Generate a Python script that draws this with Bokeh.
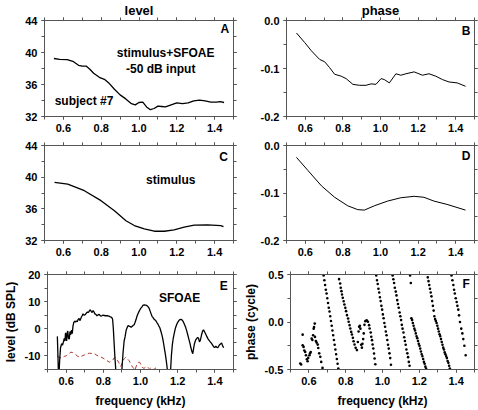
from bokeh.plotting import figure
from bokeh.models import LinearAxis, FixedTicker, CustomJSTickFormatter, Label
from bokeh.layouts import column, row
from bokeh.embed import file_html
from bokeh.resources import INLINE

# ---------------- data ----------------
# Panel A: stimulus+SFOAE level (dB SPL)
a_freq = [0.55, 0.58, 0.62, 0.65, 0.68, 0.70, 0.72, 0.74, 0.76, 0.79, 0.82, 0.84, 0.87, 0.90,
          0.93, 0.96, 0.98, 1.00, 1.02, 1.04, 1.06, 1.08, 1.10, 1.12, 1.14, 1.17, 1.20, 1.23,
          1.26, 1.29, 1.32, 1.35, 1.38, 1.41, 1.43, 1.45]
a_level = [39.25, 39.15, 39.1, 38.9, 38.4, 38.3, 38.3, 37.9, 37.4, 36.9, 36.6, 36.2, 35.4, 34.7,
           34.2, 33.6, 33.45, 33.75, 33.8, 33.2, 32.85, 33.0, 33.3, 33.25, 33.2, 33.45, 33.7, 33.6,
           33.7, 33.95, 34.05, 33.95, 33.8, 33.8, 33.85, 33.75]

# Panel B: stimulus+SFOAE phase (cycle)
b_freq = [0.553, 0.597, 0.632, 0.676, 0.703, 0.729, 0.756, 0.791, 0.817, 0.853, 0.888, 0.923,
          0.950, 0.976, 1.003, 1.020, 1.047, 1.082, 1.108, 1.135, 1.179, 1.223, 1.258, 1.294,
          1.329, 1.364, 1.408, 1.452]
b_phase = [-0.026, -0.046, -0.063, -0.081, -0.086, -0.098, -0.112, -0.116, -0.121, -0.133, -0.135,
           -0.135, -0.132, -0.133, -0.121, -0.123, -0.130, -0.111, -0.114, -0.111, -0.107, -0.114,
           -0.111, -0.116, -0.123, -0.128, -0.130, -0.137]

# Panel C: stimulus level
c_freq = [0.553, 0.623, 0.711, 0.799, 0.870, 0.931, 0.975, 1.028, 1.081, 1.134, 1.186, 1.239,
          1.292, 1.363, 1.433, 1.447]
c_level = [39.34, 39.13, 38.29, 37.03, 35.77, 34.5, 33.89, 33.47, 33.17, 33.17, 33.34, 33.68,
           33.93, 33.97, 33.89, 33.75]

# Panel D: stimulus phase
d_freq = [0.553, 0.615, 0.686, 0.756, 0.826, 0.879, 0.914, 0.967, 1.038, 1.108, 1.179, 1.231,
          1.284, 1.354, 1.452]
d_phase = [-0.025, -0.053, -0.085, -0.109, -0.127, -0.135, -0.136, -0.127, -0.117, -0.110,
           -0.107, -0.109, -0.117, -0.124, -0.136]

# Panel E: SFOAE level and noise floor
e_freq = [0.553, 0.557, 0.560, 0.565, 0.570, 0.576, 0.581, 0.585, 0.590, 0.594, 0.597, 0.600,
          0.603, 0.606, 0.609, 0.613, 0.617, 0.621, 0.625, 0.629, 0.633, 0.637, 0.641, 0.646,
          0.650, 0.655, 0.660, 0.665, 0.670, 0.675, 0.680, 0.686, 0.691, 0.697, 0.703, 0.709,
          0.715, 0.720, 0.725, 0.730, 0.735, 0.740, 0.745, 0.750, 0.755, 0.760, 0.766, 0.772,
          0.778, 0.784, 0.790, 0.797, 0.805, 0.813, 0.822, 0.830, 0.838, 0.845, 0.850, 0.854,
          0.858, 0.862, 0.866, 0.870, 0.880, 0.892, 0.900, 0.906, 0.912, 0.917, 0.923, 0.929,
          0.934, 0.939, 0.945, 0.950, 0.956, 0.961, 0.966, 0.971, 0.976, 0.981, 0.987, 0.993,
          1.000, 1.007, 1.013, 1.020, 1.027, 1.033, 1.040, 1.046, 1.052, 1.057, 1.062, 1.067,
          1.072, 1.077, 1.082, 1.088, 1.094, 1.099, 1.104, 1.110, 1.116, 1.122, 1.128, 1.134,
          1.140, 1.146, 1.154, 1.162, 1.166, 1.171, 1.176, 1.182, 1.188, 1.194, 1.200, 1.206,
          1.212, 1.218, 1.224, 1.230, 1.236, 1.242, 1.248, 1.254, 1.260, 1.266, 1.271, 1.277,
          1.281, 1.285, 1.290, 1.296, 1.302, 1.307, 1.312, 1.317, 1.322, 1.328, 1.334, 1.339,
          1.345, 1.351, 1.357, 1.363, 1.369, 1.375, 1.381, 1.387, 1.393, 1.399, 1.405, 1.410,
          1.415, 1.420, 1.425, 1.430, 1.436, 1.441, 1.447]
e_level = [-2.8, -12.0, -20.0, -12.0, -7.0, -5.5, -6.0, -5.0, -3.5, -4.5, -1.5, -2.5,
           -4.5, -1.5, -0.8, -3.5, -3.8, -1.0, -2.2, -0.5, -1.8, 1.0, 2.3, 2.8,
           2.5, 2.9, 2.6, 3.5, 3.8, 3.0, 4.0, 4.8, 5.5, 5.0, 5.2, 5.8,
           6.2, 6.0, 6.6, 7.0, 6.4, 6.0, 6.7, 6.2, 5.5, 5.3, 4.8, 5.1,
           5.3, 4.8, 4.7, 5.0, 4.9, 4.8, 4.8, 4.7, 4.4, 4.2, 3.5, 0.0,
           -5.0, -10.0, -14.0, -20.0, -30.0, -30.0, -15.0, -9.0, -4.5, -3.0, -0.5, 0.6,
           1.2, 1.0, 0.8, 0.6, 0.9, 1.3, 1.5, 2.4, 3.4, 4.6, 5.6, 6.5,
           7.4, 8.0, 8.6, 8.8, 8.7, 8.6, 8.2, 7.6, 6.5, 5.5, 4.6, 4.2,
           3.6, 3.3, 3.0, 2.3, 1.7, 1.0, 0.4, -1.0, -2.5, -4.5, -7.0, -9.5,
           -12.5, -16.0, -30.0, -15.0, -10.0, -6.0, -3.5, -1.5, 0.3, 1.5, 2.4, 3.0,
           3.4, 3.5, 3.2, 2.6, 1.7, 0.7, -0.7, -2.2, -3.8, -5.4, -7.0, -8.5,
           -9.2, -7.5, -5.5, -4.2, -3.6, -3.2, -3.5, -4.8, -4.2, -2.3, -0.8, -0.4,
           -1.2, -2.0, -2.9, -3.7, -4.3, -4.8, -5.3, -5.9, -6.6, -6.9, -6.4, -6.8,
           -7.0, -6.5, -5.9, -5.6, -5.2, -6.2, -7.0]

noise_freq = [0.553, 0.565, 0.576, 0.590, 0.602, 0.615, 0.626, 0.636, 0.648, 0.660, 0.673,
              0.686, 0.700, 0.713, 0.726, 0.740, 0.753, 0.766, 0.779, 0.793, 0.806, 0.819,
              0.832, 0.841, 0.850, 0.858, 0.867, 0.875, 0.882, 0.888, 0.894, 0.900, 0.906,
              0.913, 0.920, 0.929, 0.938, 0.945, 0.952, 0.961, 0.970, 0.976, 0.982, 0.988,
              0.995, 1.002, 1.009, 1.016, 1.023, 1.029, 1.035, 1.042, 1.048, 1.054, 1.059,
              1.065, 1.071, 1.077, 1.083, 1.090, 1.097, 1.105, 1.115, 1.130, 1.150, 1.165,
              1.175, 1.185, 1.195, 1.205, 1.220]
noise_level = [-10.2, -10.6, -10.8, -10.2, -9.9, -9.2, -8.6, -8.8, -9.3, -10.0, -10.5,
               -10.0, -9.6, -9.2, -9.0, -9.1, -9.2, -9.8, -10.2, -10.6, -11.1, -11.7,
               -12.3, -12.0, -11.7, -10.7, -10.7, -11.5, -12.3, -13.2, -13.9, -12.8, -11.7,
               -11.0, -10.5, -11.0, -11.7, -12.6, -13.5, -14.4, -15.2, -14.0, -12.9, -12.4,
               -12.3, -13.2, -14.2, -14.5, -14.4, -14.0, -13.9, -14.4, -14.8, -14.5, -14.2,
               -14.6, -15.0, -14.7, -14.4, -14.8, -15.2, -15.8, -16.5, -16.2, -15.6, -15.2,
               -15.0, -14.9, -15.1, -15.8, -16.5]

# Panel F: SFOAE phase (cycle), one dot per measured frequency
f_freq = [0.553, 0.558, 0.566, 0.566, 0.571, 0.575, 0.580, 0.584, 0.589, 0.593, 0.596, 0.603,
          0.606, 0.610, 0.615, 0.619, 0.623, 0.626, 0.628, 0.632, 0.633, 0.638, 0.642, 0.648,
          0.651, 0.656, 0.662, 0.667, 0.674,
          0.680, 0.684, 0.688, 0.692, 0.696, 0.700, 0.704, 0.708, 0.712, 0.716, 0.720, 0.724,
          0.728, 0.732, 0.736, 0.740, 0.744, 0.748, 0.752, 0.756, 0.760,
          0.764, 0.770, 0.773, 0.777, 0.780, 0.784, 0.789, 0.793, 0.798, 0.802, 0.807, 0.813,
          0.816, 0.821, 0.825, 0.830, 0.834, 0.839, 0.843, 0.848, 0.854, 0.861,
          0.866, 0.870, 0.873, 0.877, 0.880, 0.884, 0.888, 0.891, 0.895, 0.898, 0.902,
          0.907, 0.914, 0.921, 0.927, 0.930, 0.936, 0.939, 0.943, 0.946, 0.950, 0.954, 0.957, 0.961,
          0.966, 0.970, 0.974, 0.978, 0.982, 0.986, 0.990, 0.994, 0.998, 1.002, 1.006, 1.010,
          1.014, 1.018, 1.022, 1.026, 1.030, 1.034, 1.038, 1.042, 1.046,
          1.055, 1.059, 1.063, 1.067, 1.072, 1.076, 1.080, 1.084, 1.088, 1.093, 1.097, 1.101,
          1.105, 1.109, 1.114, 1.118, 1.122, 1.126, 1.130, 1.135, 1.139, 1.143, 1.147,
          1.150, 1.154,
          1.157, 1.161, 1.165, 1.169, 1.173, 1.177, 1.181, 1.185, 1.189, 1.193, 1.197, 1.201,
          1.205, 1.209, 1.213, 1.217, 1.221, 1.225, 1.229, 1.233, 1.237,
          1.246, 1.250, 1.254, 1.258, 1.262, 1.266, 1.270, 1.274, 1.278, 1.282, 1.286, 1.290,
          1.294, 1.298, 1.302, 1.306, 1.310, 1.314, 1.318, 1.322, 1.326, 1.330, 1.334, 1.338,
          1.342, 1.346, 1.350, 1.354, 1.358, 1.362, 1.366,
          1.375, 1.380, 1.385, 1.389, 1.393, 1.398, 1.403, 1.407, 1.412, 1.416, 1.421, 1.428,
          1.434, 1.439, 1.445, 1.452]
f_phase = [-0.437, -0.448, -0.133, -0.245, -0.262, -0.300, -0.315, -0.350, -0.392, -0.413, -0.378,
           -0.350, -0.330, -0.315, -0.175, -0.190, -0.140, -0.070, -0.052, -0.017, -0.157, -0.200,
           -0.217, -0.238, -0.273, -0.330, -0.367, -0.420, -0.483,
           0.49, 0.44, 0.39, 0.34, 0.30, 0.25, 0.20, 0.15, 0.11, 0.06, 0.01, -0.04,
           -0.09, -0.14, -0.19, -0.24, -0.29, -0.34, -0.39, -0.44, -0.49,
           0.451, 0.405, 0.360, 0.325, 0.289, 0.254, 0.219, 0.184, 0.149, 0.114, 0.072, 0.037,
           0.002, -0.033, -0.068, -0.104, -0.132, -0.167, -0.202, -0.237, -0.272, -0.296,
           -0.21, -0.10, -0.05, -0.04, -0.07, -0.24, -0.27, -0.23, -0.18, -0.12, -0.03,
           0.009, 0.019, 0.002, -0.033, -0.068, -0.110, -0.156, -0.191, -0.237, -0.279, -0.332, -0.384, -0.444,
           0.49, 0.44, 0.40, 0.35, 0.31, 0.26, 0.22, 0.17, 0.13, 0.08, 0.04, -0.01,
           -0.05, -0.10, -0.14, -0.19, -0.24, -0.28, -0.33, -0.38, -0.45,
           0.49, 0.45, 0.41, 0.36, 0.32, 0.28, 0.23, 0.19, 0.15, 0.10, 0.06, 0.02,
           -0.03, -0.07, -0.11, -0.16, -0.20, -0.24, -0.29, -0.33, -0.37, -0.42, -0.46,
           0.49, 0.41,
           0.04, 0.02, -0.01, -0.04, -0.07, -0.09, -0.12, -0.15, -0.17, -0.20, -0.23, -0.25,
           -0.28, -0.31, -0.34, -0.36, -0.39, -0.42, -0.44, -0.47, -0.49,
           0.47, 0.43, 0.39, 0.35, 0.31, 0.27, 0.22, 0.17, 0.12, 0.06, 0.03, 0.01,
           -0.01, -0.04, -0.07, -0.10, -0.13, -0.15, -0.18, -0.21, -0.24, -0.27, -0.29, -0.32,
           -0.34, -0.36, -0.38, -0.41, -0.43, -0.46, -0.49,
           0.49, 0.44, 0.39, 0.34, 0.30, 0.25, 0.21, 0.17, 0.13, 0.07, 0.00, -0.07,
           -0.12, -0.18, -0.25, -0.35]

x_major = [0.6, 0.8, 1.0, 1.2, 1.4]
x_minor = [0.5, 0.6, 0.7, 0.8, 0.9, 1.0, 1.1, 1.2, 1.3, 1.4, 1.5]
lvl_major = [32, 36, 40, 44]
lvl_minor = [32, 34, 36, 38, 40, 42, 44]
ph_major = [-0.2, -0.1, 0.0]
ph_minor = [-0.2, -0.15, -0.1, -0.05, 0.0]
sf_major = [-10, 0, 10, 20]
sf_minor = [-15, -10, -5, 0, 5, 10, 15, 20]
sfp_major = [-0.5, 0.0, 0.5]
sfp_minor = [-0.5, -0.25, 0.0, 0.25, 0.5]

FONT = "Liberation Sans"
SPINE = "#555555"


def style_axis(ax, major, minor, digits, show_labels=True, standoff=4):
    ax.ticker = FixedTicker(ticks=major, minor_ticks=minor)
    ax.axis_line_color = SPINE
    ax.major_tick_line_color = SPINE
    ax.minor_tick_line_color = SPINE
    ax.major_tick_in = 0
    ax.major_tick_out = 3
    ax.minor_tick_in = 0
    ax.minor_tick_out = 3
    ax.major_label_text_font = FONT
    ax.major_label_text_font_style = "bold"
    ax.major_label_text_color = "black"
    if show_labels:
        ax.formatter = CustomJSTickFormatter(code="return tick.toFixed(%d);" % digits)
        ax.major_label_text_font_size = "11px"
        ax.major_label_standoff = standoff
    else:
        ax.formatter = CustomJSTickFormatter(code="return '';")
        ax.major_label_text_font_size = "1px"
        ax.major_label_standoff = 0


def make_panel(col, rowi, yr, ymaj, ymin, ydig, title=None):
    if col == 0:
        bl, fw, br = 44, 189, 7
    else:
        bl, fw, br = 46, 188, 4
    bt, fh, bb = [(20, 96, 22), (7, 95, 26), (8, 95, 41)][rowi]
    p = figure(width=bl + fw + br, height=bt + fh + bb, x_range=(0.5, 1.5), y_range=yr,
               min_border_left=bl, min_border_right=br, min_border_top=bt, min_border_bottom=bb,
               output_backend="svg", toolbar_location=None)
    if title:
        p.title.text = title
        p.title.align = "center"
        p.title.text_font = FONT
        p.title.text_font_style = "bold"
        p.title.text_font_size = "13px"
        p.title.text_color = "black"
        p.title.standoff = 0
        p.title.offset = 0
    p.grid.visible = False
    p.outline_line_color = SPINE
    p.background_fill_color = "white"
    p.border_fill_color = "white"
    bottom = p.xaxis[0]
    left = p.yaxis[0]
    style_axis(bottom, x_major, x_minor, 1, standoff=4)
    style_axis(left, ymaj, ymin, ydig, standoff=4)
    top = LinearAxis()
    style_axis(top, x_major, x_minor, 1, show_labels=False)
    p.add_layout(top, "above")
    right = LinearAxis()
    style_axis(right, ymaj, ymin, ydig, show_labels=False)
    p.add_layout(right, "right")
    return p, bottom, left


def add_text(p, x, y, text, size="12px"):
    p.add_layout(Label(x=x, y=y, text=text, text_font=FONT, text_font_style="bold",
                       text_font_size=size, text_align="center", text_baseline="middle",
                       text_color="black"))


pA, _, _ = make_panel(0, 0, (32, 44), lvl_major, lvl_minor, 0, title="level")
pA.line(a_freq, a_level, line_color="black", line_width=1.3)
add_text(pA, 1.141, 40.0, "stimulus+SFOAE")
add_text(pA, 1.115, 38.0, "-50 dB input")
add_text(pA, 0.709, 33.9, "subject #7")
add_text(pA, 1.454, 42.9, "A")

pB, _, _ = make_panel(1, 0, (-0.2, 0.0), ph_major, ph_minor, 1, title="phase")
pB.line(b_freq, b_phase, line_color="black", line_width=1.0)
add_text(pB, 1.455, -0.0225, "B")

pC, _, _ = make_panel(0, 1, (32, 44), lvl_major, lvl_minor, 0)
pC.line(c_freq, c_level, line_color="black", line_width=1.3)
add_text(pC, 1.168, 39.7, "stimulus")
add_text(pC, 1.447, 42.6, "C")

pD, _, _ = make_panel(1, 1, (-0.2, 0.0), ph_major, ph_minor, 1)
pD.line(d_freq, d_phase, line_color="black", line_width=1.0)
add_text(pD, 1.455, -0.022, "D")

pE, eb, el = make_panel(0, 2, (-15, 20), sf_major, sf_minor, 0)
pE.line(noise_freq, noise_level, line_color="#a83a32", line_width=1.0, line_dash="4 3")
pE.line(e_freq, e_level, line_color="black", line_width=1.3)
add_text(pE, 1.21, 11.4, "SFOAE")
add_text(pE, 1.447, 15.9, "E")
el.axis_label = "level (dB SPL)"
eb.axis_label = "frequency (kHz)"

pF, fb, fl = make_panel(1, 2, (-0.5, 0.5), sfp_major, sfp_minor, 1)
pF.scatter(f_freq, f_phase, size=2.6, fill_color="black", line_color=None)
add_text(pF, 1.455, 0.40, "F")
fl.axis_label = "phase (cycle)"
fb.axis_label = "frequency (kHz)"

for xb, yl in ((eb, el), (fb, fl)):
    for ax in (xb, yl):
        ax.axis_label_text_font = FONT
        ax.axis_label_text_font_style = "bold"
        ax.axis_label_text_font_size = "12px"
        ax.axis_label_text_color = "black"
    xb.axis_label_standoff = 6
    yl.axis_label_standoff = 4

layout = column(row(pA, pB), row(pC, pD), row(pE, pF))

open("out.html", "w").write(file_html(layout, INLINE))
